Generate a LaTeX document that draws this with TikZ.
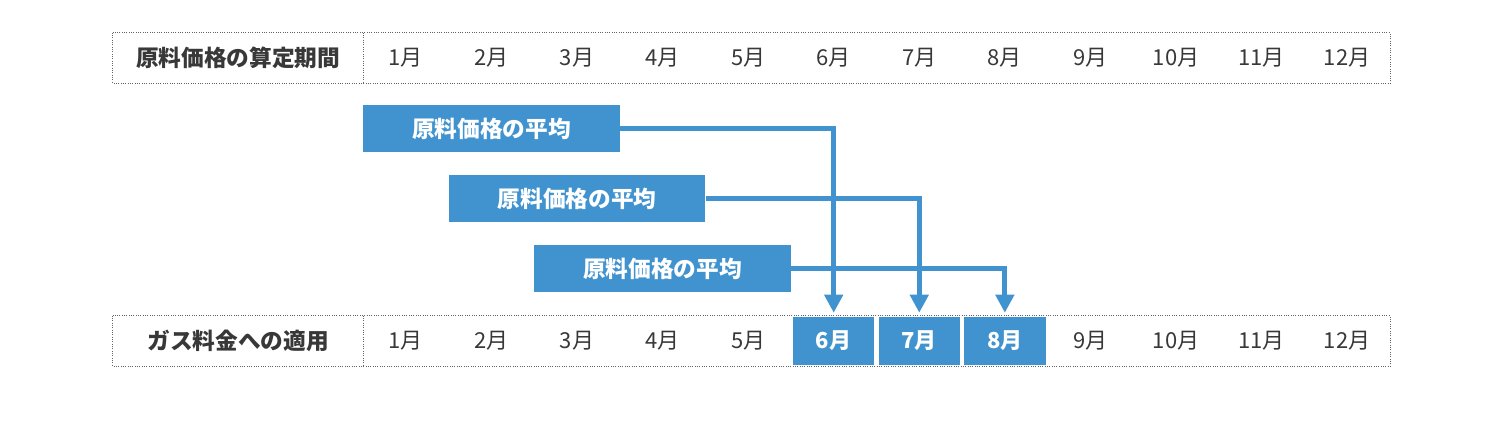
\documentclass[tikz,border=0pt]{standalone}
\usepackage{fontspec}
\setmainfont{Noto Sans CJK JP}
\usepackage{tikz}
\usetikzlibrary{arrows.meta}
\usetikzlibrary{calc,positioning}
\definecolor{barblue}{RGB}{64,147,206}
\definecolor{inkgray}{RGB}{56,56,56}
\definecolor{framegray}{RGB}{100,100,100}

\begin{document}
\begin{tikzpicture}[x=0.75pt,y=-0.75pt,>=Stealth,
    frame/.style={draw=framegray, densely dotted, line width=0.75pt},
    head/.style={text=inkgray, font=\fontsize{17}{20}\selectfont\bfseries, minimum width=187.5pt, minimum height=37.5pt, inner sep=0pt},
    month/.style={text=inkgray, font=\fontsize{16.5}{19}\selectfont, minimum width=64.2pt, minimum height=37.5pt, inner sep=0pt},
    hot/.style={month, fill=barblue, text=white, font=\fontsize{16.5}{19}\selectfont\bfseries, minimum width=61pt, minimum height=36pt},
    avg/.style={fill=barblue, text=white, font=\fontsize{17}{20}\selectfont\bfseries, minimum width=192.6pt, minimum height=35.25pt, inner sep=0pt},
    flow/.style={draw=barblue, line width=3.75pt, -{Triangle[length=13.5pt,width=13.5pt]}, shorten >=3pt}]
    \useasboundingbox (0,0) rectangle (1504,433);

    \node[head] (plan) at (238,58) {原料価格の算定期間};
    \foreach \m in {1,...,12}
        \node[month] (plan\m) at ({363+(\m-0.5)*85.58},58) {{\m}月};
    \draw[frame] (plan.north west) rectangle (plan12.south east);
    \draw[frame] (plan.north east) -- (plan.south east);

    \node[head] (use) at (238,341) {ガス料金への適用};
    \foreach \m in {1,...,12}{
        \ifnum\m>5 \ifnum\m<9 \def\cellstyle{hot}\else\def\cellstyle{month}\fi\else\def\cellstyle{month}\fi
        \node[\cellstyle] (use\m) at ({363+(\m-0.5)*85.58},341) {{\m}月};
    }
    \draw[frame] (use.north west) rectangle (use12.south east -| plan12.east);
    \draw[frame] (use.north east) -- (use.south east);

    \node[avg] (avg1) at (491.4,128.5) {原料価格の平均};
    \node[avg] (avg2) at (577,198.5) {原料価格の平均};
    \node[avg] (avg3) at (662.6,268.5) {原料価格の平均};

    \draw[flow] (avg1.east) -| (use6.north);
    \draw[flow] (avg2.east) -| (use7.north);
    \draw[flow] (avg3.east) -| (use8.north);
\end{tikzpicture}
\end{document}
